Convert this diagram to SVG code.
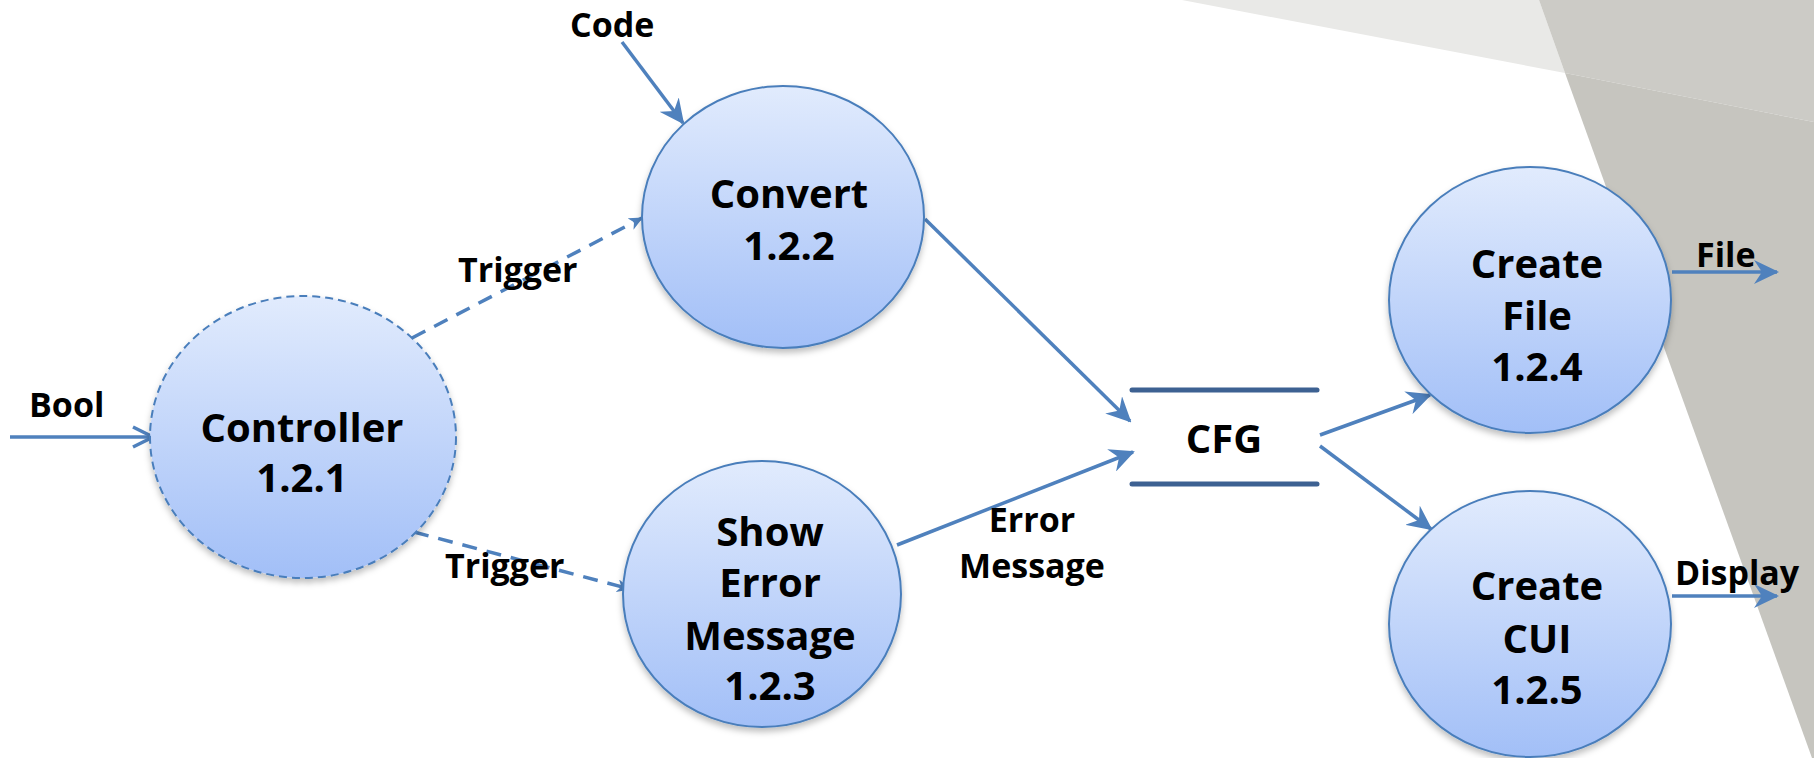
<svg xmlns="http://www.w3.org/2000/svg" width="1814" height="758" viewBox="0 0 1814 758">
<style>
.node{fill:url(#g);stroke:#4a7ebb;stroke-width:2;filter:url(#sh)}
.dash{stroke-dasharray:8 5}
.t{font-family:"Open Sans","Noto Sans","Liberation Sans",sans-serif;font-weight:bold;font-size:40px;fill:#000;text-anchor:middle}
.l{font-family:"Open Sans","Noto Sans","Liberation Sans",sans-serif;font-weight:bold;font-size:34px;fill:#000}
.c{stroke:#4f81bd;stroke-width:3.5;fill:none}
.cd{stroke-dasharray:15 10}
</style>
<defs>
<linearGradient id="g" x1="0" y1="0" x2="0" y2="1">
<stop offset="0" stop-color="#e1ebfd"/>
<stop offset="1" stop-color="#a2bff7"/>
</linearGradient>
<filter id="sh" x="-10%" y="-10%" width="120%" height="125%">
<feDropShadow dx="0" dy="4" stdDeviation="3" flood-color="#000" flood-opacity="0.25"/>
</filter>
<marker id="st" markerUnits="userSpaceOnUse" viewBox="0 0 25 24" markerWidth="25" markerHeight="24" refX="23" refY="12" orient="auto">
<path d="M0,0 L25,12 L0,24 L8,12 z" fill="#4f81bd"/>
</marker>
<marker id="sm" markerUnits="userSpaceOnUse" viewBox="0 0 14 13" markerWidth="14" markerHeight="13" refX="13" refY="6.5" orient="auto">
<path d="M0,0 L14,6.5 L0,13 L4,6.5 z" fill="#4f81bd"/>
</marker>
<marker id="op" markerUnits="userSpaceOnUse" viewBox="-2 -2 24 24" markerWidth="24" markerHeight="24" refX="20" refY="10" orient="auto">
<path d="M0,0 L20,10 L0,20" fill="none" stroke="#4f81bd" stroke-width="3.5"/>
</marker>
</defs>
<rect width="1814" height="758" fill="#fff"/>
<g id="background">
<polygon points="1182,0 1539,0 1565,73" fill="#e9e9e7"/>
<polygon points="1539,0 1814,0 1814,122 1565,73" fill="#cccbc6"/>
<polygon points="1565,73 1814,122 1814,758 1812,758" fill="#c6c5bf"/>
</g>
<g id="connectors">
<line class="c" x1="10" y1="437" x2="153" y2="437" marker-end="url(#op)"/>
<line class="c" x1="622" y1="42" x2="683" y2="123" marker-end="url(#st)"/>
<line class="c cd" x1="412" y1="338" x2="642" y2="218" marker-end="url(#sm)"/>
<line class="c cd" x1="414" y1="532" x2="630" y2="589" marker-end="url(#sm)"/>
<line class="c" x1="925" y1="219" x2="1130" y2="421" marker-end="url(#st)"/>
<line class="c" x1="897" y1="545" x2="1133" y2="452" marker-end="url(#st)"/>
<line class="c" x1="1320" y1="435" x2="1430" y2="395" marker-end="url(#st)"/>
<line class="c" x1="1320" y1="446" x2="1431" y2="529" marker-end="url(#st)"/>
<line class="c" x1="1672" y1="272" x2="1777" y2="272" marker-end="url(#st)"/>
<line class="c" x1="1672" y1="596" x2="1777" y2="596" marker-end="url(#st)"/>
<text class="l" x="29" y="417">Bool</text>
<text class="l" x="570" y="37">Code</text>
<text class="l" x="458" y="282">Trigger</text>
<text class="l" x="445" y="578">Trigger</text>
<text class="l" x="1032" y="532" text-anchor="middle">Error</text>
<text class="l" x="1032" y="578" text-anchor="middle">Message</text>
<text class="l" x="1696" y="267">File</text>
<text class="l" x="1675" y="585">Display</text>
</g>
<g id="controller">
<ellipse class="node dash" cx="303" cy="437" rx="153" ry="141"/>
<text class="t" x="302" y="442">Controller</text>
<text class="t" x="302" y="492">1.2.1</text>
</g>
<g id="convert">
<ellipse class="node" cx="783" cy="217" rx="141" ry="131"/>
<text class="t" x="789" y="208">Convert</text>
<text class="t" x="789" y="260">1.2.2</text>
</g>
<g id="showerror">
<ellipse class="node" cx="762" cy="594" rx="139" ry="133"/>
<text class="t" x="770" y="546">Show</text>
<text class="t" x="770" y="597">Error</text>
<text class="t" x="770" y="650">Message</text>
<text class="t" x="770" y="700">1.2.3</text>
</g>
<g id="cfg">
<line x1="1132" y1="390" x2="1317" y2="390" stroke="#3d6192" stroke-width="5" stroke-linecap="round"/>
<line x1="1132" y1="484" x2="1317" y2="484" stroke="#3d6192" stroke-width="5" stroke-linecap="round"/>
<text class="t" x="1224" y="453">CFG</text>
</g>
<g id="createfile">
<ellipse class="node" cx="1530" cy="300" rx="141" ry="133"/>
<text class="t" x="1537" y="278">Create</text>
<text class="t" x="1537" y="330">File</text>
<text class="t" x="1537" y="381">1.2.4</text>
</g>
<g id="createcui">
<ellipse class="node" cx="1530" cy="624" rx="141" ry="133"/>
<text class="t" x="1537" y="600">Create</text>
<text class="t" x="1537" y="653">CUI</text>
<text class="t" x="1537" y="704">1.2.5</text>
</g>
</svg>
